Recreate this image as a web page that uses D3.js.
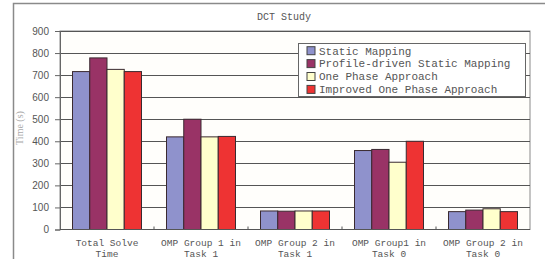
<!DOCTYPE html>
<html>
<head>
<meta charset="utf-8">
<script src="https://cdn.jsdelivr.net/npm/d3@7"></script>
<style>
  body { margin: 0; background: #fff; }
  svg { display: block; }
</style>
</head>
<body>
<svg width="545" height="259"></svg>
<script>
var categories = [
  ["Total Solve", "Time"],
  ["OMP Group 1 in", "Task 1"],
  ["OMP Group 2 in", "Task 1"],
  ["OMP Group1 in", "Task 0"],
  ["OMP Group 2 in", "Task 0"]
];
var series = ["Static Mapping", "Profile-driven Static Mapping", "One Phase Approach", "Improved One Phase Approach"];
var colors = ["#8f92cc", "#993366", "#ffffcc", "#ee3333"];

var staticMapping  = [716, 420, 84, 358, 81];
var profileDriven  = [778, 500, 83, 363, 88];
var onePhase       = [726, 420, 84, 305, 94];
var improvedPhase  = [716, 422, 84, 400, 81];
var values = [staticMapping, profileDriven, onePhase, improvedPhase];

var yTicks = [0, 100, 200, 300, 400, 500, 600, 700, 800, 900];

var svg = d3.select("svg");
var mono = "'Liberation Mono', 'DejaVu Sans Mono', monospace";

var plot_left = 60, plot_right = 530, plot_top = 31, plot_bottom = 229.5;

// outer chart border
svg.append("path")
  .attr("d", "M13.5,260 L13.5,3.5 L546,3.5")
  .attr("fill", "none")
  .attr("stroke", "#8a8a8a")
  .attr("stroke-width", 1.5);

var x0 = d3.scaleBand()
  .domain(d3.range(categories.length))
  .range([plot_left, plot_right]);

var x1 = d3.scaleBand()
  .domain(d3.range(series.length))
  .range([12.5, x0.bandwidth() - 12.5]);

var y = d3.scaleLinear()
  .domain([0, 900])
  .range([plot_bottom, plot_top]);

// plot background
svg.append("rect")
  .attr("x", plot_left).attr("y", plot_top)
  .attr("width", plot_right - plot_left).attr("height", plot_bottom - plot_top)
  .attr("fill", "#fffefb")
  .attr("stroke", "#8a8a8a");

// gridlines
svg.append("g")
  .selectAll("line")
  .data(yTicks.slice(1))
  .join("line")
  .attr("x1", plot_left).attr("x2", plot_right)
  .attr("y1", function(d) { return Math.round(y(d)) + 0.5; })
  .attr("y2", function(d) { return Math.round(y(d)) + 0.5; })
  .attr("stroke", "#555");

// y axis
var yAxis = svg.append("g")
  .attr("transform", "translate(" + plot_left + ",0)")
  .call(d3.axisLeft(y).tickValues(yTicks).tickSize(5).tickPadding(6));
yAxis.select(".domain").attr("stroke", "#666");
yAxis.selectAll(".tick line").attr("stroke", "#666");
yAxis.selectAll("text")
  .attr("fill", "#555")
  .style("font", "10px 'Liberation Sans', Arial, sans-serif");

// bars
var groups = svg.append("g")
  .selectAll("g")
  .data(categories)
  .join("g")
  .attr("transform", function(d, i) { return "translate(" + x0(i) + ",0)"; });

groups.selectAll("rect")
  .data(function(d, i) { return values.map(function(s, j) { return { s: j, v: s[i] }; }); })
  .join("rect")
  .attr("x", function(d) { return x1(d.s); })
  .attr("width", x1.bandwidth())
  .attr("y", function(d) { return y(d.v); })
  .attr("height", function(d) { return y(0) - y(d.v); })
  .attr("fill", function(d) { return colors[d.s]; })
  .attr("stroke", "#3a2a30")
  .attr("stroke-width", 1);

// x axis line and category ticks
svg.append("line")
  .attr("x1", plot_left).attr("x2", plot_right)
  .attr("y1", plot_bottom).attr("y2", plot_bottom)
  .attr("stroke", "#555");
svg.append("g")
  .selectAll("line")
  .data(d3.range(1, categories.length))
  .join("line")
  .attr("x1", function(d) { return x0(d); })
  .attr("x2", function(d) { return x0(d); })
  .attr("y1", plot_bottom).attr("y2", plot_bottom - 3)
  .attr("stroke", "#555");

// category labels
var labels = svg.append("g")
  .selectAll("text")
  .data(categories)
  .join("text")
  .attr("x", function(d, i) { return x0(i) + x0.bandwidth() / 2; })
  .attr("y", 246)
  .attr("text-anchor", "middle")
  .attr("fill", "#555")
  .style("font", "9.5px " + mono);
labels.selectAll("tspan")
  .data(function(d) { return d; })
  .join("tspan")
  .attr("x", function() { return this.parentNode.getAttribute("x"); })
  .attr("dy", function(d, i) { return i ? 10.5 : 0; })
  .text(function(d) { return d; });

// title
svg.append("text")
  .attr("x", 284).attr("y", 20)
  .attr("text-anchor", "middle")
  .attr("fill", "#555")
  .style("font", "10px " + mono)
  .text("DCT Study");

// y title
svg.append("text")
  .attr("transform", "translate(23,128) rotate(-90)")
  .attr("text-anchor", "middle")
  .attr("fill", "#aaa")
  .style("font", "10px 'Liberation Serif', serif")
  .text("Time (s)");

// legend
var legend = svg.append("g").attr("transform", "translate(298,43)");
legend.append("rect")
  .attr("x", 0.5).attr("y", 0.5)
  .attr("width", 227).attr("height", 53)
  .attr("fill", "#fff")
  .attr("stroke", "#666");
var items = legend.selectAll("g.item")
  .data(series)
  .join("g")
  .attr("class", "item")
  .attr("transform", function(d, i) { return "translate(0," + (7.7 + i * 12.9) + ")"; });
items.append("rect")
  .attr("x", 9).attr("y", -4)
  .attr("width", 8).attr("height", 8)
  .attr("fill", function(d, i) { return colors[i]; })
  .attr("stroke", "#444");
items.append("text")
  .attr("x", 21).attr("y", 3.8)
  .attr("fill", "#555")
  .style("font", "11px " + mono)
  .text(function(d) { return d; });
</script>
</body>
</html>
